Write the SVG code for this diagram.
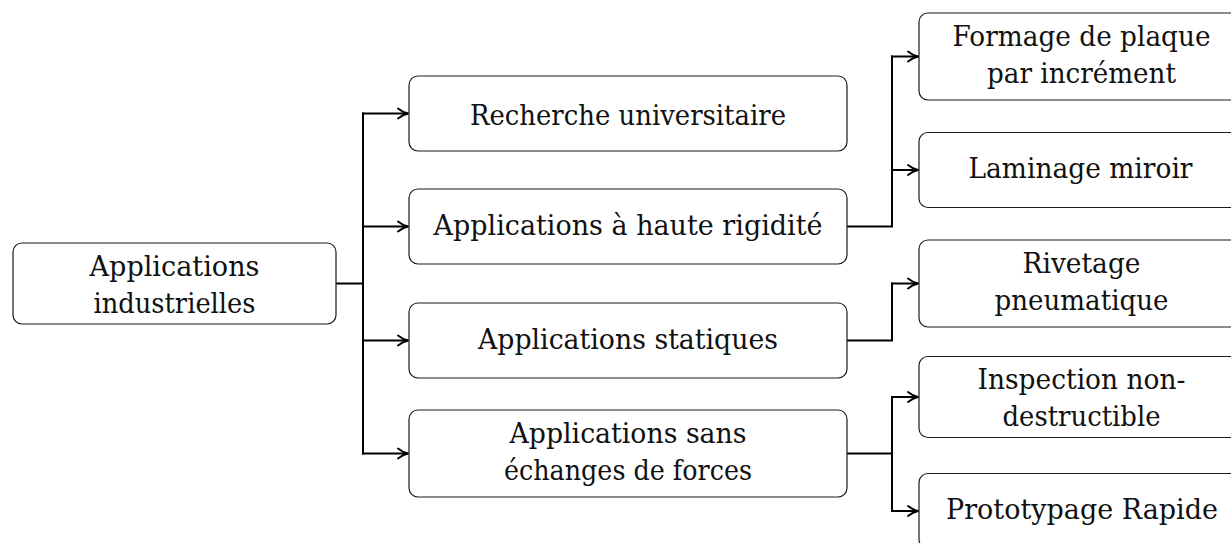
<svg xmlns="http://www.w3.org/2000/svg" width="1231" height="543" viewBox="0 0 1231 543">
<style>
.box{fill:#fff;stroke:#1a1a1a;stroke-width:1.2}
.t{font-family:'DejaVu Serif',serif;font-size:28.5px;fill:#111;text-anchor:middle}
.c{fill:none;stroke:#000;stroke-width:2}
</style>
<defs>
<marker id="arr" markerUnits="userSpaceOnUse" markerWidth="14" markerHeight="14" viewBox="-12 -7 14 14" refX="0" refY="0" orient="auto" overflow="visible">
<path d="M -10 -5 C -6.5 -2.2 -3 -0.6 0 0 C -3 0.6 -6.5 2.2 -10 5" fill="none" stroke="#000" stroke-width="1.9" stroke-linecap="round" stroke-linejoin="round"/>
</marker>
</defs>
<rect width="1231" height="543" fill="#fff"/>
<g id="connectors">
<path class="c" d="M336 283.5 H363 M363 112.5 V454.5"/>
<path class="c" d="M362 113.5 H408" marker-end="url(#arr)"/>
<path class="c" d="M362 226.5 H408" marker-end="url(#arr)"/>
<path class="c" d="M362 340.5 H408" marker-end="url(#arr)"/>
<path class="c" d="M362 453.5 H408" marker-end="url(#arr)"/>
<path class="c" d="M847 226.5 H892 M892 55.5 V227.5"/>
<path class="c" d="M891 56.5 H918" marker-end="url(#arr)"/>
<path class="c" d="M891 170 H918" marker-end="url(#arr)"/>
<path class="c" d="M847 340.5 H892 M892 282.5 V341.5"/>
<path class="c" d="M891 283.5 H918" marker-end="url(#arr)"/>
<path class="c" d="M847 453.5 H892 M892 396 V512"/>
<path class="c" d="M891 397 H918" marker-end="url(#arr)"/>
<path class="c" d="M891 511 H918" marker-end="url(#arr)"/>
</g>
<g id="root">
<rect class="box" x="13" y="243" width="323" height="81" rx="9"/>
<text class="t" x="174.5" y="275.5" textLength="170" lengthAdjust="spacingAndGlyphs">Applications</text>
<text class="t" x="174.5" y="312.5" textLength="162" lengthAdjust="spacingAndGlyphs">industrielles</text>
</g>
<g id="recherche">
<rect class="box" x="409" y="76" width="438" height="75" rx="9"/>
<text class="t" x="628" y="124.5" textLength="316" lengthAdjust="spacingAndGlyphs">Recherche universitaire</text>
</g>
<g id="haute">
<rect class="box" x="409" y="189" width="438" height="75" rx="9"/>
<text class="t" x="628" y="234.5" textLength="389" lengthAdjust="spacingAndGlyphs">Applications à haute rigidité</text>
</g>
<g id="statiques">
<rect class="box" x="409" y="303" width="438" height="75" rx="9"/>
<text class="t" x="628" y="348.5" textLength="300" lengthAdjust="spacingAndGlyphs">Applications statiques</text>
</g>
<g id="sans">
<rect class="box" x="409" y="410" width="438" height="87" rx="9"/>
<text class="t" x="628" y="442.5" textLength="237" lengthAdjust="spacingAndGlyphs">Applications sans</text>
<text class="t" x="628" y="479.5" textLength="248" lengthAdjust="spacingAndGlyphs">échanges de forces</text>
</g>
<g id="formage">
<rect class="box" x="919" y="13" width="330" height="87" rx="9"/>
<text class="t" x="1081.5" y="45.5" textLength="258" lengthAdjust="spacingAndGlyphs">Formage de plaque</text>
<text class="t" x="1081.5" y="82.5" textLength="189" lengthAdjust="spacingAndGlyphs">par incrément</text>
</g>
<g id="laminage">
<rect class="box" x="919" y="132.5" width="330" height="75" rx="9"/>
<text class="t" x="1080.5" y="177.5" textLength="224" lengthAdjust="spacingAndGlyphs">Laminage miroir</text>
</g>
<g id="rivetage">
<rect class="box" x="919" y="240" width="330" height="87" rx="9"/>
<text class="t" x="1081.5" y="272.5" textLength="118" lengthAdjust="spacingAndGlyphs">Rivetage</text>
<text class="t" x="1081.5" y="309.5" textLength="174" lengthAdjust="spacingAndGlyphs">pneumatique</text>
</g>
<g id="inspection">
<rect class="box" x="919" y="356.5" width="330" height="81" rx="9"/>
<text class="t" x="1081.5" y="389" textLength="208" lengthAdjust="spacingAndGlyphs">Inspection non-</text>
<text class="t" x="1081.5" y="426" textLength="158" lengthAdjust="spacingAndGlyphs">destructible</text>
</g>
<g id="prototypage">
<rect class="box" x="919" y="473.5" width="330" height="75" rx="9"/>
<text class="t" x="1082" y="519" textLength="272" lengthAdjust="spacingAndGlyphs">Prototypage Rapide</text>
</g>
</svg>
